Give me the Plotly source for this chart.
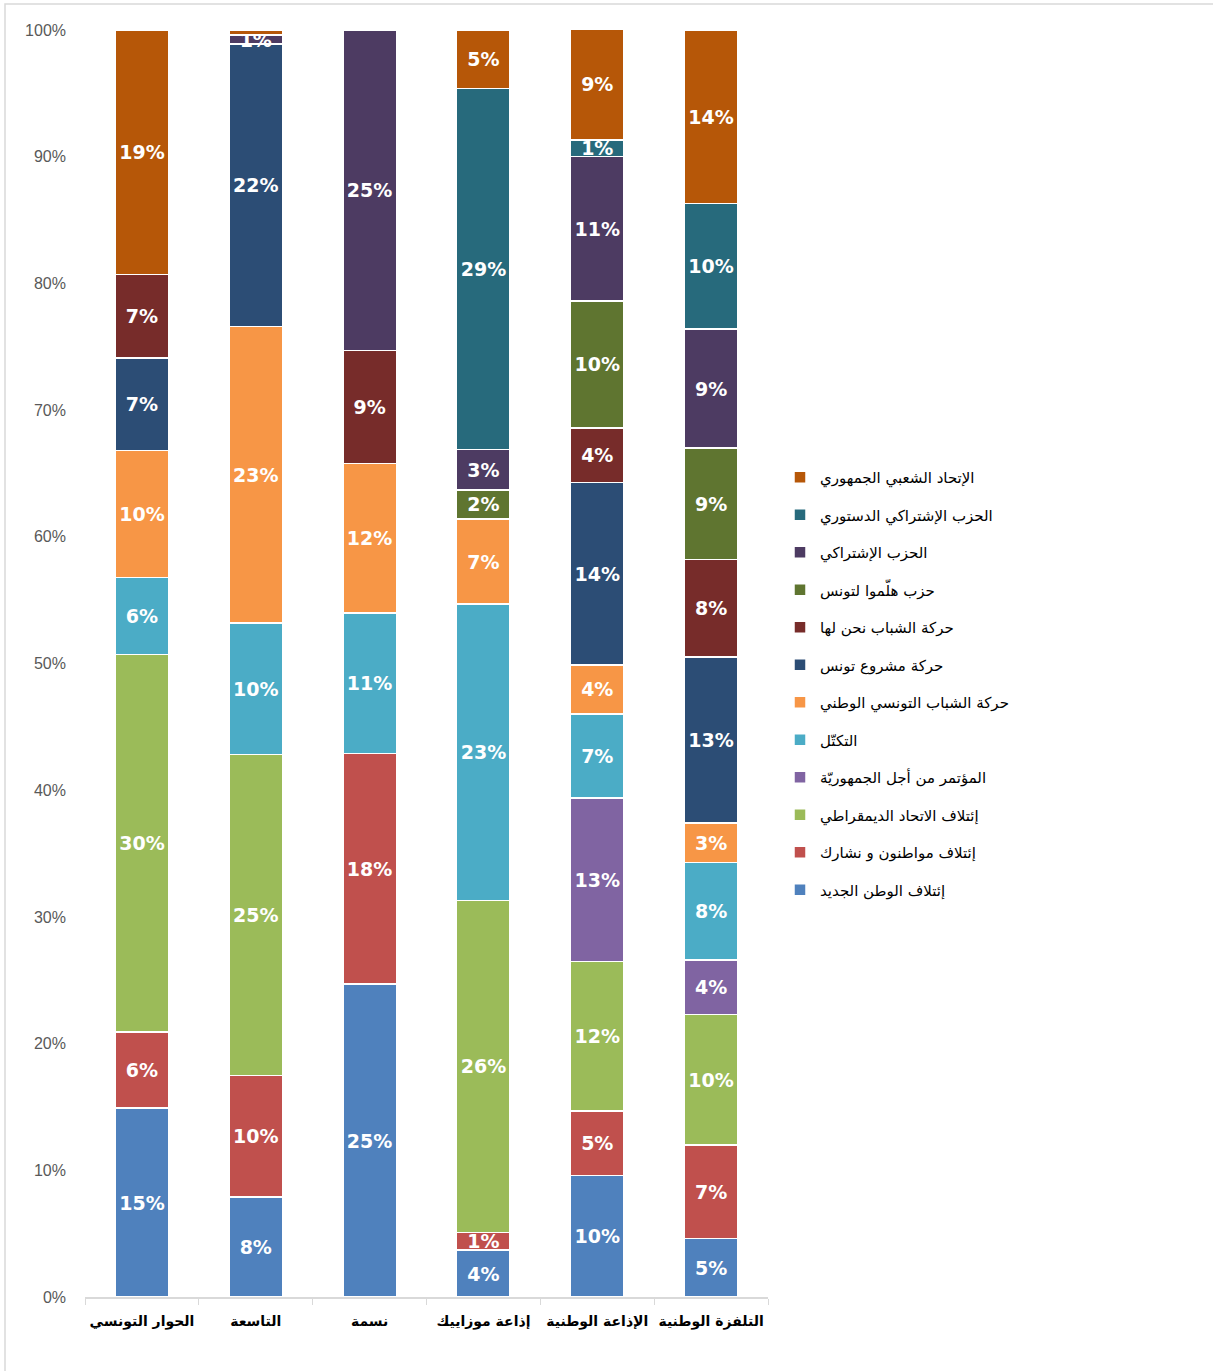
import plotly.graph_objects as go

categories = ["الحوار التونسي", "التاسعة", "نسمة", "إذاعة موزاييك", "الإذاعة الوطنية", "التلفزة الوطنية"]

series_names = [
    "إئتلاف الوطن الجديد",
    "إئتلاف مواطنون و نشارك",
    "إئتلاف الاتحاد الديمقراطي",
    "المؤتمر من أجل الجمهوريّة",
    "التكتّل",
    "حركة الشباب التونسي الوطني",
    "حركة مشروع تونس",
    "حركة الشباب نحن لها",
    "حزب هلّموا لتونس",
    "الحزب الإشتراكي",
    "الحزب الإشتراكي الدستوري",
    "الإتحاد الشعبي الجمهوري",
]

watan_jadid = [14.9, 7.9, 24.7, 3.7, 9.6, 4.6]
mouwatinoun = [6.0, 9.6, 18.2, 1.4, 5.1, 7.4]
ittihad_dem = [29.8, 25.3, 0, 26.2, 11.8, 10.3]
cpr = [0, 0, 0, 0, 12.9, 4.3]
takattol = [6.1, 10.4, 11.1, 23.4, 6.6, 7.7]
chabab_watani = [10.0, 23.4, 11.8, 6.7, 3.9, 3.1]
machrou = [7.3, 22.3, 0, 0, 14.4, 13.1]
nahnou_laha = [6.6, 0, 8.9, 0, 4.3, 7.7]
halommou = [0, 0, 0, 2.3, 10.0, 8.8]
ichtiraki = [0, 0.7, 25.3, 3.2, 11.4, 9.4]
destouri = [0, 0, 0, 28.5, 1.3, 9.9]
chaabi = [19.3, 0.4, 0, 4.6, 8.8, 13.7]

series_values = [watan_jadid, mouwatinoun, ittihad_dem, cpr, takattol, chabab_watani,
                 machrou, nahnou_laha, halommou, ichtiraki, destouri, chaabi]

colors = ["#4F81BD", "#C0504D", "#9BBB59", "#8064A2", "#4BACC6", "#F79646",
          "#2C4D75", "#772C2A", "#5F7530", "#4D3B62", "#276A7C", "#B65708"]

y_ticks = [0, 10, 20, 30, 40, 50, 60, 70, 80, 90, 100]
y_tick_labels = [f"{v}%" for v in y_ticks]

fig = go.Figure()
n = len(series_names)
for i, (name, vals, col) in enumerate(zip(series_names, series_values, colors)):
    texts = [f"{int(v + 0.5)}%" if int(v + 0.5) > 0 else "" for v in vals]
    fig.add_trace(go.Bar(
        x=categories, y=vals, name=name, legendgroup=name, legendrank=n - i,
        marker=dict(color=col, line=dict(color="white", width=1.5)),
        text=texts, textposition="inside", insidetextanchor="middle",
        textfont=dict(family="DejaVu Sans", size=19, color="white", weight="bold"),
        width=0.47, hoverinfo="skip",
    ))

# pixel -> paper helpers (plot area: x 85..768, y 30..1297)
px0, py0 = 85, 1297
w, h = 683, 1267
def px(x): return (x - px0) / w
def py(y): return (py0 - y) / h

fig.add_shape(type="rect", xref="paper", yref="paper",
              x0=px(5), x1=px(1260), y0=py(1420), y1=py(4),
              line=dict(color="#D9D9D9", width=1.5), fillcolor="rgba(0,0,0,0)", layer="below")

fig.update_layout(
    barmode="stack",
    width=1213, height=1371,
    margin=dict(l=85, r=445, t=30, b=74, autoexpand=False),
    plot_bgcolor="white", paper_bgcolor="white",
    showlegend=True,
    legend=dict(
        traceorder="grouped", x=px(780), xanchor="left", y=py(461), yanchor="top",
        font=dict(family="DejaVu Sans", size=15, color="#000000"),
        tracegroupgap=15, bgcolor="rgba(0,0,0,0)",
    ),
    uniformtext=dict(mode="show", minsize=19),
    xaxis=dict(
        type="category", showline=True, linecolor="#D9D9D9", linewidth=1.5,
        ticks="outside", tickson="boundaries", ticklen=6, tickcolor="#D9D9D9",
        tickangle=0, ticklabelstandoff=10,
        tickfont=dict(family="DejaVu Sans", size=14, color="#000000", weight="bold"),
        showgrid=False, zeroline=False, automargin=False,
    ),
    yaxis=dict(
        range=[0, 100], tickvals=y_ticks, ticktext=y_tick_labels,
        showgrid=False, zeroline=False, showline=False,
        tickfont=dict(family="Liberation Sans", size=16, color="#595959"),
        ticklabelstandoff=18, automargin=False,
    ),
)

fig.write_html("out.html", config={"displayModeBar": False},
               post_script="document.body.style.margin='0px';")
